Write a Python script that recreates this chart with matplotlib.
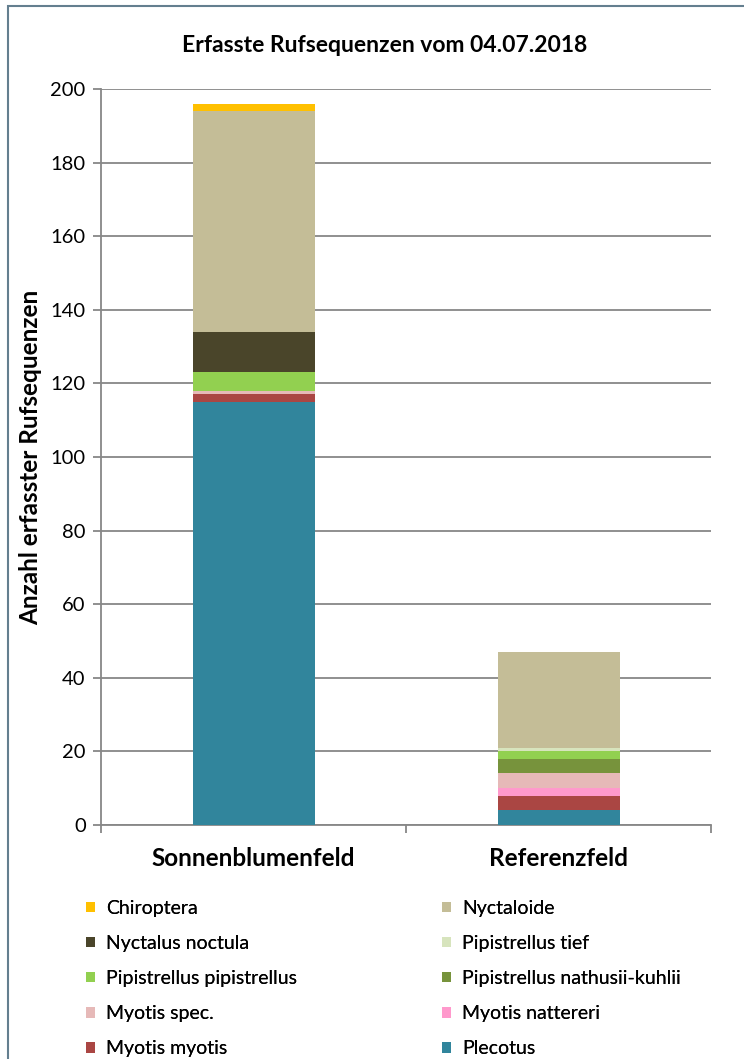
import matplotlib
matplotlib.use("Agg")
import matplotlib.pyplot as plt
from matplotlib.patches import Rectangle, Patch
import numpy as np

plt.rcParams['font.family'] = ['Lato', 'DejaVu Sans']

# Survey sites
sites = ["Sonnenblumenfeld", "Referenzfeld"]

# Species groups, stacked from the bottom upwards
species = [
    "Plecotus",
    "Myotis myotis",
    "Myotis nattereri",
    "Myotis spec.",
    "Pipistrellus nathusii-kuhlii",
    "Pipistrellus pipistrellus",
    "Pipistrellus tief",
    "Nyctalus noctula",
    "Nyctaloide",
    "Chiroptera",
]

# Recorded call sequences per species group: [Sonnenblumenfeld, Referenzfeld]
plecotus = [115, 4]
myotis_myotis = [2, 4]
myotis_nattereri = [0, 2]
myotis_spec = [1, 4]
pip_nathusii_kuhlii = [0, 4]
pip_pipistrellus = [5, 2]
pip_tief = [0, 1]
nyctalus_noctula = [11, 0]
nyctaloide = [60, 26]
chiroptera = [2, 0]

counts = [plecotus, myotis_myotis, myotis_nattereri, myotis_spec,
          pip_nathusii_kuhlii, pip_pipistrellus, pip_tief,
          nyctalus_noctula, nyctaloide, chiroptera]

colors = ["#31859C", "#AA4643", "#FF99CC", "#E6B9B8", "#77933C",
          "#92D050", "#D7E4BD", "#4A452A", "#C4BD97", "#FFC000"]

y_ticks = [0, 20, 40, 60, 80, 100, 120, 140, 160, 180, 200]

W, H = 744, 1059
fig = plt.figure(figsize=(W / 100, H / 100), dpi=100)

# outer chart-area frame (only left and top edges are visible)
fig.patches.append(Rectangle((7.5 / W, -0.1), 1.2, 1 - 5.5 / H + 0.1,
                             transform=fig.transFigure, fill=False,
                             edgecolor="#647f8f", linewidth=1.5))

ax = fig.add_axes([101 / W, 1 - 825 / H, (711 - 101) / W, (825 - 89) / H])

x = np.arange(len(sites))
bottom = np.zeros(len(sites))
handles = {}
for name, vals, col in zip(species, counts, colors):
    vals = np.array(vals, dtype=float)
    ax.bar(x, vals, width=0.4, bottom=bottom, color=col, linewidth=0, zorder=3)
    bottom += vals
    handles[name] = Patch(facecolor=col, edgecolor="none")

ax.set_xlim(-0.5, 1.5)
ax.set_ylim(0, 200)
ax.set_yticks(y_ticks)
ax.yaxis.grid(True, color="#878787", linewidth=1.3, zorder=0)
ax.set_axisbelow(True)

for s in ["top", "right"]:
    ax.spines[s].set_visible(False)
for s in ["left", "bottom"]:
    ax.spines[s].set_color("#878787")
    ax.spines[s].set_linewidth(1.3)

ax.tick_params(axis="y", length=6, width=1.3, color="#878787",
               labelsize=14.5, pad=5, labelcolor="#000000")
ax.set_xticks(x)
ax.set_xticklabels(sites, fontsize=17.5, fontweight="bold")
ax.tick_params(axis="x", length=0, pad=16)
ax.set_xticks([-0.5, 0.5, 1.5], minor=True)
ax.tick_params(axis="x", which="minor", length=6, width=1.3, color="#878787")

ax.set_ylabel("Anzahl erfasster Rufsequenzen", fontsize=17.5,
              fontweight="bold")
ax.yaxis.set_label_coords(-(101 - 42) / (711 - 101), 0.5)

fig.text(385 / W, 1 - 45 / H, "Erfasste Rufsequenzen vom 04.07.2018",
         ha="center", va="center", fontsize=16.5, fontweight="bold")

# legend: two columns, read row by row from the top of the stack
col1 = ["Chiroptera", "Nyctalus noctula", "Pipistrellus pipistrellus",
        "Myotis spec.", "Myotis myotis"]
col2 = ["Nyctaloide", "Pipistrellus tief", "Pipistrellus nathusii-kuhlii",
        "Myotis nattereri", "Plecotus"]
leg_kw = dict(loc="upper left", frameon=False, fontsize=14,
              handlelength=0.45, handleheight=0.45, handletextpad=0.6,
              labelspacing=0.93, borderaxespad=0, borderpad=0)
for names, x0 in [(col1, 86), (col2, 442)]:
    leg = fig.legend([handles[n] for n in names], names,
                     bbox_to_anchor=(x0 / W, 1 - 900 / H), **leg_kw)
    fig.add_artist(leg)

fig.savefig("out.png", dpi=100, facecolor="white")
